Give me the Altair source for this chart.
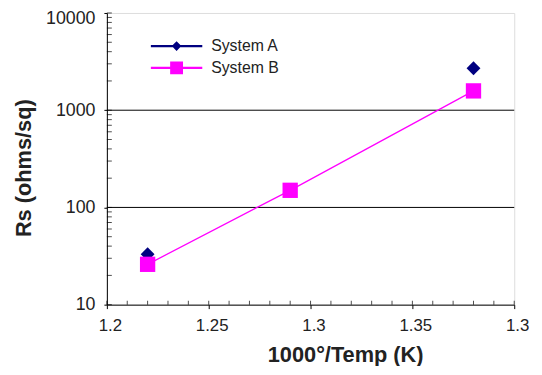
import altair as alt
import pandas as pd

# ---- data ----
series_names = ["System A", "System B"]
series_colors = ["#000080", "#FF00FF"]

a_x = [1.22, 1.38]
a_y = [33, 2700]

b_x = [1.22, 1.29, 1.38]
b_y = [26, 150, 1580]

x_major = [1.2, 1.25, 1.3, 1.35, 1.4]
x_minor = [1.20, 1.21, 1.22, 1.23, 1.24, 1.25, 1.26, 1.27, 1.28, 1.29, 1.30,
           1.31, 1.32, 1.33, 1.34, 1.35, 1.36, 1.37, 1.38, 1.39, 1.40]
y_major = [10, 100, 1000, 10000]
y_minor = [10, 20, 30, 40, 50, 60, 70, 80, 90,
           100, 200, 300, 400, 500, 600, 700, 800, 900,
           1000, 2000, 3000, 4000, 5000, 6000, 7000, 8000, 9000, 10000]
grid_y = [100, 1000]

FONT = "Liberation Sans"
W, H = 412, 295

df_a = pd.DataFrame({"x": a_x, "y": a_y, "series": series_names[0]})
df_b = pd.DataFrame({"x": b_x, "y": b_y, "series": series_names[1]})
df_all = pd.concat([df_a, df_b], ignore_index=True)

x_scale = alt.Scale(domain=[1.2, 1.4], nice=False, zero=False)
y_scale = alt.Scale(type="log", domain=[10, 10000], nice=False)

x_axis = alt.Axis(
    values=x_major, format="~g",
    labelExpr="datum.value > 1.39 ? '1.3' : datum.label",
    title="1000°/Temp (K)", titleFont=FONT, titleFontSize=22, titleFontWeight="bold",
    titleColor="#222222", titleX=241, titleY=58, titleAlign="center",
    titleBaseline="alphabetic",
    labelFont=FONT, labelFontSize=17, labelColor="#222222", labelPadding=9,
    labelFlush=False, labelOverlap=False, labelOffset=3,
    tickSize=4, tickColor="black", domainColor="black", domainWidth=1,
    grid=False, zindex=1,
)
y_axis = alt.Axis(
    values=y_major, format="d",
    title="Rs (ohms/sq)", titleFont=FONT, titleFontSize=22, titleFontWeight="bold",
    titleColor="#222222", titleX=-84, titleY=156.5, titleAngle=270,
    titleAlign="center", titleBaseline="middle",
    labelFont=FONT, labelFontSize=18, labelColor="#222222", labelPadding=9,
    labelFlush=False, labelOverlap=False,
    labelOffset={"condition": {"test": "datum.value >= 10000", "value": 6}, "value": 0},
    tickSize=3, tickColor="black", domainColor="black", domainWidth=1,
    grid=False, zindex=1,
)

X = alt.X("x:Q", scale=x_scale, axis=x_axis)
Y = alt.Y("y:Q", scale=y_scale, axis=y_axis)

# legend symbols: a short line with the marker on it
path_a = "M-2,-0.088L2,-0.088L2,0.088L-2,0.088Z M0,-0.373L0.373,0L0,0.373L-0.373,0Z"
path_b = "M-2,-0.088L2,-0.088L2,0.088L-2,0.088Z M-0.5,-0.5L0.5,-0.5L0.5,0.5L-0.5,0.5Z"

legend = alt.Legend(
    orient="none", legendX=57.5, legendY=20.5,
    symbolSize=676, symbolStrokeWidth=0, symbolOpacity=1,
    labelOffset=22, rowPadding=1,
    labelFont=FONT, labelFontSize=16, labelColor="#222222",
)
C = alt.Color("series:N", title=None,
              scale=alt.Scale(domain=series_names, range=series_colors),
              legend=legend)
S = alt.Shape("series:N", title=None,
              scale=alt.Scale(domain=series_names, range=[path_a, path_b]),
              legend=legend)

grid = alt.Chart(pd.DataFrame({"y": grid_y})).mark_rule(
    color="black", strokeWidth=1).encode(y=Y)

xt = alt.Chart(pd.DataFrame({"x": x_minor})).mark_tick(
    color="black", thickness=1, size=4, orient="vertical").encode(
    x=X, y=alt.value(H - 2))

yt = alt.Chart(pd.DataFrame({"y": y_minor})).mark_tick(
    color="black", thickness=1, size=5, orient="horizontal").encode(
    y=Y, x=alt.value(2.5))

line_b = alt.Chart(df_b).mark_line(color="#FF00FF", strokeWidth=1.3).encode(x=X, y=Y)

# invisible layer that only feeds the legend
leg = alt.Chart(df_all).mark_point(filled=True, opacity=0).encode(
    x=X, y=Y, color=C, shape=S)

pts_a = alt.Chart(df_a).mark_point(
    shape="diamond", filled=True, size=196, opacity=1).encode(x=X, y=Y, color=C)
pts_b = alt.Chart(df_b).mark_point(
    shape="square", filled=True, size=240, opacity=1).encode(x=X, y=Y, color=C)

chart = alt.layer(grid, xt, yt, line_b, leg, pts_a, pts_b).properties(
    width=W, height=H, autosize="none",
    padding={"left": 100, "top": 3, "right": 20, "bottom": 60},
).configure_view(stroke="#808080", strokeWidth=1.5).configure(font=FONT)

chart.save("out.html", embed_options={"renderer": "svg", "actions": False})
